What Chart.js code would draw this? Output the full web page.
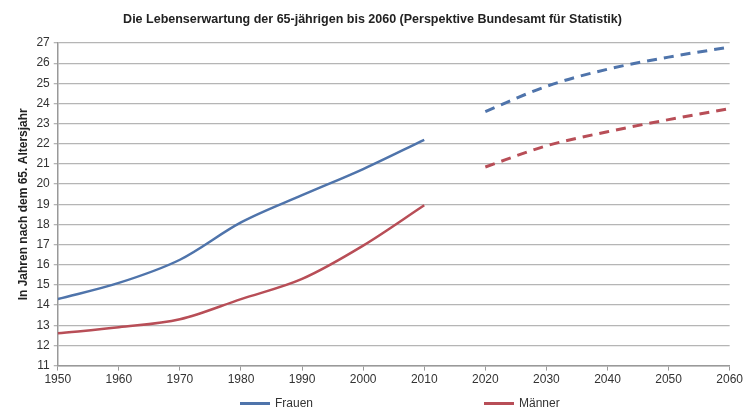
<!DOCTYPE html>
<html>
<head>
<meta charset="utf-8">
<script src="https://cdn.jsdelivr.net/npm/chart.js@4"></script>
<style>
  html, body { margin: 0; padding: 0; background: #fff; }
  #wrap { position: relative; width: 745px; height: 408px; }
  .legend { position: absolute; top: 396px; font: 12px "Liberation Sans", Arial, sans-serif; color: #333; display: flex; align-items: center; }
  .legend i { display: inline-block; width: 30px; height: 3px; margin-right: 5px; }
</style>
</head>
<body>
<div id="wrap">
  <canvas id="lifeChart" width="745" height="408"></canvas>
  <div class="legend" style="left:240px"><i style="background:#4f74ab"></i>Frauen</div>
  <div class="legend" style="left:484px"><i style="background:#b84e57"></i>Männer</div>
</div>
<script>
// --- Data ---
const yearsPast = [1950, 1960, 1970, 1980, 1990, 2000, 2010];
const frauenPast = [14.3, 15.1, 16.25, 18.1, 19.45, 20.75, 22.2];
const maennerPast = [12.6, 12.9, 13.3, 14.3, 15.3, 16.95, 18.95];

const yearsFuture = [2020, 2030, 2040, 2050, 2060];
const frauenFuture = [23.6, 24.85, 25.7, 26.3, 26.8];
const maennerFuture = [20.85, 21.9, 22.6, 23.2, 23.75];

const blue = '#4f74ab';
const red = '#b84e57';

function toPoints(xs, ys) {
    return xs.map((x, i) => ({ x: x, y: ys[i] }));
}

document.addEventListener("DOMContentLoaded", function () {
    const ctx = document.getElementById('lifeChart');
    new Chart(ctx, {
        type: 'line',
        data: {
            datasets: [
                { label: 'Frauen', data: toPoints(yearsPast, frauenPast), borderColor: blue, borderWidth: 2.5 },
                { label: 'Männer', data: toPoints(yearsPast, maennerPast), borderColor: red, borderWidth: 2.5 },
                { label: 'Frauen Prognose', data: toPoints(yearsFuture, frauenFuture), borderColor: blue, borderWidth: 3, borderDash: [10, 7] },
                { label: 'Männer Prognose', data: toPoints(yearsFuture, maennerFuture), borderColor: red, borderWidth: 3, borderDash: [10, 7] }
            ]
        },
        options: {
            responsive: false,
            animation: false,
            elements: {
                point: { radius: 0 },
                line: { tension: 0.15, cubicInterpolationMode: 'monotone', fill: false }
            },
            layout: { padding: { left: 14, right: 14, top: 4, bottom: 19 } },
            scales: {
                x: {
                    type: 'linear',
                    min: 1950, max: 2060,
                    ticks: { stepSize: 10, color: '#333', font: { family: 'Liberation Sans', size: 12 }, callback: v => String(v), maxRotation: 0, padding: 2 },
                    grid: { display: true, drawOnChartArea: false, color: '#999', tickLength: 5 },
                    border: { color: '#999', width: 1.5 }
                },
                y: {
                    min: 11, max: 27,
                    ticks: { stepSize: 1, color: '#333', font: { family: 'Liberation Sans', size: 12 }, padding: 4 },
                    grid: { color: '#b5b5b5', lineWidth: 1.3, tickLength: 4 },
                    border: { color: '#999', width: 1.5 },
                    title: { display: true, text: 'In Jahren nach dem 65. Altersjahr', color: '#222', font: { family: 'Liberation Sans', size: 12, weight: 'bold' }, padding: 2 }
                }
            },
            plugins: {
                legend: { display: false },
                tooltip: { enabled: false },
                title: {
                    display: true,
                    text: 'Die Lebenserwartung der 65-jährigen bis 2060 (Perspektive Bundesamt für Statistik)',
                    color: '#222',
                    font: { family: 'Liberation Sans', size: 12.5, weight: 'bold' },
                    padding: { top: 8, bottom: 16 }
                }
            }
        }
    });
});
</script>
</body>
</html>
